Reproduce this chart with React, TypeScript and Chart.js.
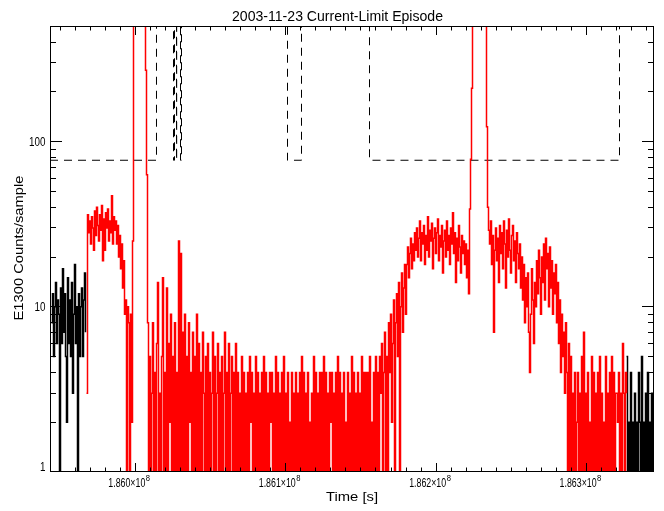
import React, { useEffect, useRef } from "react";
import { Chart, registerables } from "chart.js";

Chart.register(...registerables);

// ---------- text ----------
const TITLE = "2003-11-23 Current-Limit Episode";
const X_TITLE = "Time [s]";
const Y_TITLE = "E1300 Counts/sample";

// ---------- axes ----------
const X_MIN = 185943300;
const X_MAX = 186344800;
const Y_MIN = 1;
const Y_MAX = 500;
const X_MAJOR_TICKS = [186000000, 186100000, 186200000, 186300000];
const X_MAJOR_LABELS = ["1.860×10", "1.861×10", "1.862×10", "1.863×10"];
const X_LABEL_EXPONENT = "8";
const X_MINOR_STEP = 10000;
const Y_DECADES = [1, 10, 100];
const Y_MAJOR_LABELS = ["1", "10", "100"];

// ---------- data ----------
const SAMPLE_DT = 664.735; // seconds per sample

const BLACK_LEFT_START = 185944297;
const BLACK_LEFT_COUNTS = [
  8, 12, 5, 10, 14, 6, 11, 9, 1, 13,
  6, 17, 7, 12, 5, 2, 15, 6, 11, 5,
  14, 3, 9, 18, 6, 10, 1, 12, 5, 10,
  13, 5, 11, 16, 7,
];

const RED_START = 185967563;
const RED_COUNTS = [
  3, 36, 28, 33, 24, 35, 30, 22, 38, 27,
  40, 31, 25, 36, 29, 41, 19, 34, 22, 37,
  30, 39, 25, 33, 28, 47, 24, 35, 29, 33,
  24, 31, 20, 27, 17, 24, 13, 19, 9, 11,
  1, 10, 8, 1, 9, 2, 25, 2000, 2000, 2000,
  2000, 2000, 2000, 2000, 2000, 2000, 2000, 2000, 2000, 270,
  63, 8, 1, 5, 1, 3, 8, 1, 4, 1,
  6, 14, 1, 3, 1, 5, 15, 1, 4, 1,
  13, 1, 6, 2, 9, 1, 5, 1, 8, 1,
  4, 1, 25, 1, 21, 1, 7, 1, 9, 1,
  5, 1, 8, 2, 4, 1, 7, 1, 5, 1,
  9, 1, 6, 1, 4, 1, 7, 3, 1, 5,
  1, 6, 1, 4, 1, 3, 7, 1, 5, 1,
  3, 6, 1, 4, 1, 5, 1, 3, 7, 1,
  4, 1, 6, 1, 3, 5, 1, 4, 1, 6,
  1, 4, 1, 3, 1, 5, 1, 4, 1, 3,
  1, 4, 1, 5, 2, 4, 1, 3, 1, 5,
  1, 4, 1, 3, 1, 4, 1, 5, 1, 4,
  1, 3, 1, 4, 2, 4, 1, 3, 1, 5,
  1, 4, 1, 3, 1, 4, 1, 5, 1, 3,
  1, 4, 1, 2, 1, 4, 1, 3, 1, 4,
  1, 3, 1, 4, 1, 5, 1, 4, 1, 3,
  1, 4, 1, 2, 1, 3, 1, 5, 1, 4,
  1, 3, 1, 4, 1, 4, 1, 5, 1, 4,
  1, 3, 1, 4, 2, 4, 1, 3, 1, 4,
  1, 5, 1, 4, 1, 3, 1, 4, 1, 2,
  1, 4, 1, 3, 1, 5, 1, 4, 1, 3,
  1, 4, 1, 3, 1, 5, 1, 4, 1, 4,
  1, 4, 1, 5, 1, 2, 1, 4, 1, 5,
  1, 4, 1, 5, 3, 6, 1, 4, 7, 1,
  5, 1, 8, 4, 9, 2, 6, 11, 1, 8,
  12, 5, 14, 1, 10, 16, 7, 13, 18, 9,
  18, 23, 15, 21, 26, 17, 24, 19, 28, 22,
  30, 20, 26, 33, 19, 28, 24, 31, 18, 27,
  22, 35, 20, 29, 25, 32, 17, 26, 30, 21,
  28, 34, 19, 27, 23, 31, 16, 25, 29, 20,
  33, 22, 27, 18, 30, 24, 37, 21, 28, 14,
  26, 19, 31, 23, 16, 27, 21, 25, 18, 24,
  15, 22, 12, 39, 78, 210, 2000, 2000, 2000, 2000,
  2000, 2000, 2000, 2000, 2000, 2000, 2000, 2000, 2000, 2000,
  123, 40, 29, 24, 33, 18, 27, 7, 22, 30,
  19, 26, 14, 31, 21, 28, 17, 33, 24, 13,
  29, 20, 34, 22, 16, 27, 31, 19, 25, 14,
  28, 21, 17, 24, 13, 20, 11, 18, 8, 15,
  10, 16, 7, 4, 9, 17, 11, 6, 14, 10,
  19, 12, 22, 15, 9, 20, 14, 24, 11, 26,
  17, 21, 10, 23, 13, 19, 9, 16, 12, 18,
  8, 14, 6, 11, 4, 9, 5, 7, 3, 8,
  4, 1, 6, 1, 5, 1, 3, 1, 4, 1,
  2, 4, 1, 3, 1, 5, 1, 7, 1, 3,
  1, 4, 1, 2, 1, 5, 1, 4, 1, 3,
  1, 4, 1, 5, 1, 3, 1, 2, 1, 5,
  1, 3, 1, 4, 1, 5, 1, 4, 1, 3,
  3, 2, 4, 1, 3, 1, 6, 3, 1, 4,
  3,
];

const BLACK_RIGHT_START = 186326520;
const BLACK_RIGHT_COUNTS = [
  5, 1, 2, 1, 4, 1, 2, 1, 3, 1,
  2, 1, 4, 2, 1, 5, 1, 2, 1, 3,
  1, 4, 1, 2, 1, 3, 1, 2,
];

// current limit (dashed): transition times and levels
const LIMIT_TIMES = [
  185943300, 186014094, 186014094, 186025395, 186025395, 186026060, 186026060,
  186027389, 186027389, 186027500, 186027500, 186030048, 186030048, 186030713,
  186030713, 186101175, 186101175, 186110481, 186110481, 186155683, 186155683,
  186321867, 186321867, 186344800,
];
const LIMIT_LEVELS = [
  77, 77, 2000, 2000, 77, 77, 2000,
  2000, 77, 77, 2000, 2000, 77, 77,
  2000, 2000, 77, 77, 2000, 2000, 77,
  77, 2000, 2000,
];

const FONT = '"Liberation Sans", "DejaVu Sans", sans-serif';

function drawText(
  ctx: CanvasRenderingContext2D,
  text: string,
  x: number,
  y: number,
  size: number,
  align: CanvasTextAlign,
  opts: { width?: number; hScale?: number; rotate?: number } = {}
) {
  ctx.save();
  ctx.font = `${size}px ${FONT}`;
  ctx.textBaseline = "alphabetic";
  ctx.textAlign = align;
  let s = opts.hScale ?? 1;
  if (opts.width) {
    const w = ctx.measureText(text).width;
    if (w > 0) s = opts.width / w;
  }
  ctx.translate(x, y);
  if (opts.rotate) ctx.rotate(opts.rotate);
  ctx.scale(s, 1);
  ctx.fillStyle = "#000";
  ctx.fillText(text, 0, 0);
  ctx.restore();
}

const idlAxes = {
  id: "idlAxes",
  afterDatasetsDraw(chart: any) {
    const ctx: CanvasRenderingContext2D = chart.ctx;
    const { left, right, top, bottom } = chart.chartArea;
    const xs = chart.scales.x;
    const ys = chart.scales.y;
    ctx.save();
    ctx.setLineDash([]);
    ctx.strokeStyle = "#000";
    ctx.lineWidth = 1;
    ctx.strokeRect(left + 0.5, top + 0.5, right - left - 1, bottom - top - 1);

    ctx.beginPath();
    const k0 = Math.ceil(X_MIN / X_MINOR_STEP);
    const k1 = Math.floor(X_MAX / X_MINOR_STEP);
    for (let k = k0; k <= k1; k++) {
      const t = k * X_MINOR_STEP;
      const px = Math.floor(xs.getPixelForValue(t)) + 0.5;
      const len = X_MAJOR_TICKS.includes(t) ? 9 : 4.5;
      ctx.moveTo(px, bottom);
      ctx.lineTo(px, bottom - len);
      ctx.moveTo(px, top);
      ctx.lineTo(px, top + len);
    }
    for (const dec of Y_DECADES) {
      for (let m = 1; m <= 9; m++) {
        const v = m * dec;
        if (v > Y_MAX) break;
        if (v <= Y_MIN) continue;
        const py = Math.floor(ys.getPixelForValue(v)) + 0.5;
        const len = m === 1 ? 12 : 6;
        ctx.moveTo(left, py);
        ctx.lineTo(left + len, py);
        ctx.moveTo(right, py);
        ctx.lineTo(right - len, py);
      }
    }
    ctx.stroke();
    ctx.restore();

    // x tick labels
    X_MAJOR_TICKS.forEach((t, i) => {
      const px = xs.getPixelForValue(t);
      drawText(ctx, X_MAJOR_LABELS[i], px - 27, 486.5, 12, "left", { width: 37 });
      drawText(ctx, X_LABEL_EXPONENT, px + 10.5, 481, 9, "left", { hScale: 0.85 });
    });
    // y tick labels
    Y_DECADES.forEach((v, i) => {
      const py = ys.getPixelForValue(v);
      drawText(ctx, Y_MAJOR_LABELS[i], 45.5, Math.min(py + 4.5, 471), 12, "right", { hScale: 0.82 });
    });

    // titles
    drawText(ctx, TITLE, 337.5, 21, 14, "center", { width: 211 });
    drawText(ctx, X_TITLE, 352, 501, 13, "center", { width: 52 });
    drawText(ctx, Y_TITLE, 23, 248, 13, "center", { width: 145, rotate: -Math.PI / 2 });
  },
};

function series(start: number, values: number[]) {
  return values.map((v, i) => ({ x: start + i * SAMPLE_DT, y: v }));
}

export default function App() {
  const ref = useRef<HTMLCanvasElement | null>(null);

  useEffect(() => {
    if (!ref.current) return;
    const chart = new Chart(ref.current, {
      type: "line",
      data: {
        datasets: [
          {
            data: series(BLACK_LEFT_START, BLACK_LEFT_COUNTS),
            borderColor: "#000000",
            borderWidth: 1.5,
            pointRadius: 0,
            stepped: "before",
          },
          {
            data: series(RED_START, RED_COUNTS),
            borderColor: "#ff0000",
            borderWidth: 1.5,
            pointRadius: 0,
            stepped: "before",
          },
          {
            data: series(BLACK_RIGHT_START, BLACK_RIGHT_COUNTS),
            borderColor: "#000000",
            borderWidth: 1.5,
            pointRadius: 0,
            stepped: "before",
          },
          {
            data: LIMIT_TIMES.map((t, i) => ({ x: t, y: LIMIT_LEVELS[i] })),
            borderColor: "#000000",
            borderWidth: 1,
            borderDash: [8, 6],
            pointRadius: 0,
          },
        ],
      },
      options: {
        responsive: false,
        animation: false,
        devicePixelRatio: 1,
        events: [],
        layout: { padding: { top: 26, right: 10, left: 0, bottom: 0 } },
        plugins: {
          legend: { display: false },
          tooltip: { enabled: false },
          title: { display: false },
        },
        scales: {
          x: {
            type: "linear",
            min: X_MIN,
            max: X_MAX,
            grid: { display: false },
            border: { display: false },
            ticks: { display: false },
            afterFit: (s: any) => {
              s.height = 39;
            },
          },
          y: {
            type: "logarithmic",
            min: Y_MIN,
            max: Y_MAX,
            grid: { display: false },
            border: { display: false },
            ticks: { display: false },
            afterFit: (s: any) => {
              s.width = 50;
            },
          },
        },
      },
      plugins: [idlAxes],
    } as any);
    return () => chart.destroy();
  }, []);

  return (
    <div style={{ position: "absolute", left: 0, top: 0, width: 664, height: 511, background: "#fff" }}>
      <canvas ref={ref} width={664} height={511} style={{ display: "block" }} />
    </div>
  );
}
